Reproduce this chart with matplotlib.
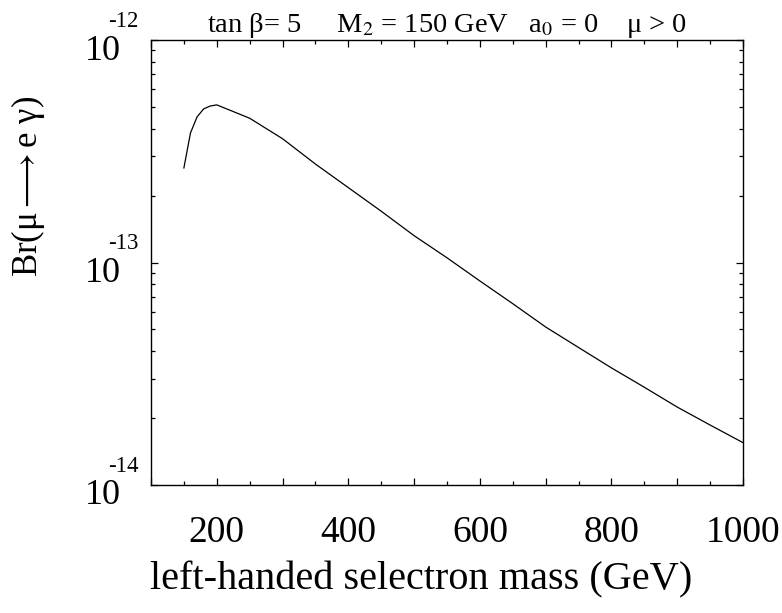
import numpy as np
import matplotlib
matplotlib.use("Agg")
import matplotlib.pyplot as plt
import matplotlib.transforms as mtransforms
from matplotlib.ticker import MultipleLocator, FixedLocator, FuncFormatter

plt.rcParams['font.family'] = ['Liberation Serif', 'DejaVu Serif']
plt.rcParams['mathtext.fontset'] = 'stix'

# selectron mass (GeV) and Br(mu -> e gamma)
mass = [150, 160, 170, 180, 190, 200, 250, 300, 350, 400, 450, 500,
        550, 600, 650, 700, 750, 800, 850, 900, 950, 1000]
br = [2.66e-13, 3.82e-13, 4.51e-13, 4.90e-13, 5.05e-13, 5.11e-13, 4.45e-13,
      3.60e-13, 2.77e-13, 2.17e-13, 1.70e-13, 1.32e-13, 1.05e-13, 8.26e-14,
      6.53e-14, 5.13e-14, 4.15e-14, 3.36e-14, 2.75e-14, 2.24e-14, 1.86e-14,
      1.55e-14]

x_labels = [200, 400, 600, 800, 1000]
y_decades = [1e-14, 1e-13, 1e-12]
title = "tan β= 5     M$_2$ = 150 GeV   a$_0$ = 0    μ > 0"

fig = plt.figure(figsize=(7.82, 6.13), dpi=100)
ax = fig.add_axes([151 / 782, 1 - 485 / 613, 592 / 782, 445 / 613])

ax.plot(mass, br, color='black', lw=0.9)

ax.set_xlim(100, 1000)
ax.set_yscale('log')
ax.set_ylim(1e-14, 1e-12)

ax.xaxis.set_major_locator(MultipleLocator(100))
ax.xaxis.set_minor_locator(MultipleLocator(50))
ax.xaxis.set_major_formatter(
    FuncFormatter(lambda v, p: f"{int(round(v))}" if int(round(v)) in x_labels else ""))

ax.yaxis.set_major_locator(FixedLocator(y_decades))
ax.yaxis.set_major_formatter(FuncFormatter(lambda v, p: "10"))

ax.tick_params(which='both', direction='in', top=True, right=True, width=0.9)
ax.tick_params(which='major', length=5)
ax.tick_params(which='minor', length=2.8)
ax.tick_params(axis='x', which='major', labelsize=27, pad=22)
ax.tick_params(axis='y', which='major', labelsize=26, pad=22, labelright=False)

for sp in ax.spines.values():
    sp.set_linewidth(1.0)

# the "10" sits a little below its tick
shift = mtransforms.ScaledTranslation(0, -0.07, fig.dpi_scale_trans)
for lab in ax.get_yticklabels():
    lab.set_transform(lab.get_transform() + shift)

# exponents of the decade labels, set above the "10"
for d in y_decades:
    ax.annotate(f"{int(round(np.log10(d)))}", xy=(0, d),
                xycoords=('axes fraction', 'data'),
                xytext=(-31, 6), textcoords='offset points',
                fontsize=16.5, ha='left', va='bottom')

ax.set_xlabel("left-handed selectron mass (GeV)", fontsize=29)
ax.xaxis.set_label_coords(0.456, -0.172)
ax.set_ylabel(r"Br(μ$\longrightarrow$e γ)", fontsize=25)
ax.yaxis.set_label_coords(-0.175, 0.67)
ax.set_title(title, fontsize=20.5, pad=6)

fig.savefig("out.png", dpi=100)
